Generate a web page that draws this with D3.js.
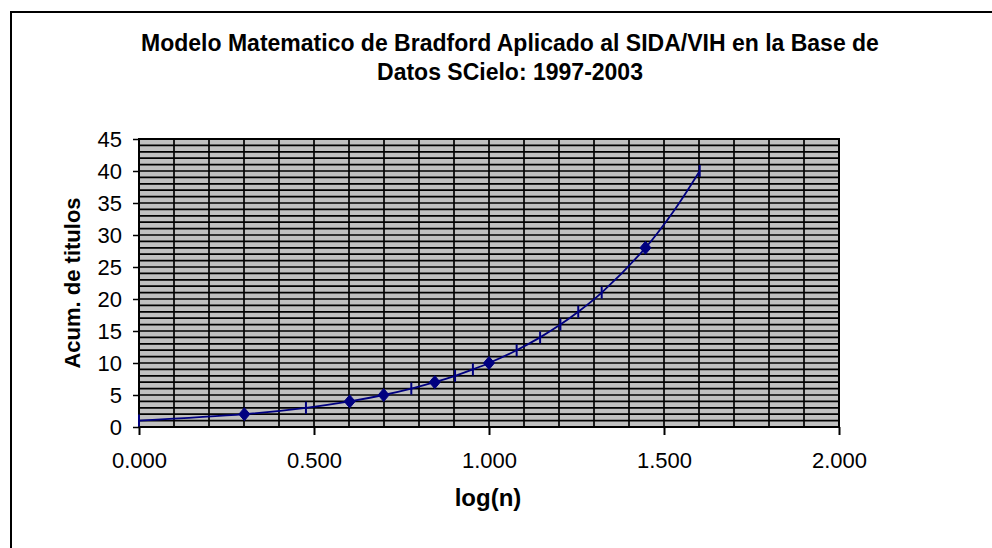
<!DOCTYPE html>
<html>
<head>
<meta charset="utf-8">
<script src="https://cdn.jsdelivr.net/npm/d3@7/dist/d3.min.js"></script>
<style>
  html, body { margin: 0; padding: 0; background: #fff; }
  svg { display: block; }
  text { font-family: "Liberation Sans", Arial, sans-serif; }
</style>
</head>
<body>
<svg id="chart" width="992" height="548"></svg>
<script>
// ---- data ----
const titleLines = ["Modelo Matematico de Bradford Aplicado al SIDA/VIH en la Base de", "Datos SCielo: 1997-2003"];
const xLabel = "log(n)";
const yLabel = "Acum. de titulos";
// log(n) values on the x axis
const logN = [0.000, 0.301, 0.477, 0.602, 0.699, 0.778, 0.845, 0.903, 0.954, 1.000, 1.079, 1.146, 1.204, 1.255, 1.322, 1.447, 1.531, 1.602];
// cumulative titles
const acumTitulos = [1, 2, 3, 4, 5, 6, 7, 8, 9, 10, 12, 14, 16, 18, 21, 28, 34, 40];
// marker shown at each point: "diamond", "bar" (vertical dash) or "none"
const markerType = ["bar", "diamond", "bar", "diamond", "diamond", "bar", "diamond", "bar", "bar", "diamond", "bar", "bar", "bar", "bar", "bar", "diamond", "none", "bar"];
const xTickValues = [0, 0.5, 1.0, 1.5, 2.0];
const yTickValues = [0, 5, 10, 15, 20, 25, 30, 35, 40, 45];

const data = logN.map((v, i) => ({ x: v, y: acumTitulos[i], m: markerType[i] }));

const svg = d3.select("#chart");
const W = 992, H = 548;
const plot = { left: 139, right: 839, top: 139, bottom: 427 };

const x = d3.scaleLinear().domain([0, 2]).range([plot.left, plot.right]);
const y = d3.scaleLinear().domain([0, 45]).range([plot.bottom, plot.top]);

// outer frame
svg.append("rect").attr("x", 11).attr("y", 12).attr("width", W + 20).attr("height", H + 20)
  .attr("fill", "#fff").attr("stroke", "#000").attr("stroke-width", 2);

// title
svg.append("g").selectAll("text").data(titleLines).join("text")
  .attr("x", 510).attr("y", (d, i) => 51 + i * 29)
  .attr("text-anchor", "middle").attr("font-weight", "bold").attr("font-size", 23)
  .attr("fill", "#000").text(d => d);

// plot background
svg.append("rect").attr("x", plot.left).attr("y", plot.top)
  .attr("width", plot.right - plot.left).attr("height", plot.bottom - plot.top)
  .attr("fill", "#c0c0c0");

// gridlines
const grid = svg.append("g").attr("stroke", "#000").attr("stroke-width", 1.7);
grid.selectAll("line.h").data(y.ticks(45)).join("line").attr("class", "h")
  .attr("x1", plot.left).attr("x2", plot.right)
  .attr("y1", d => y(d)).attr("y2", d => y(d));
grid.selectAll("line.v").data(x.ticks(20)).join("line").attr("class", "v")
  .attr("x1", d => x(d)).attr("x2", d => x(d))
  .attr("y1", plot.top).attr("y2", plot.bottom);

// plot border
svg.append("rect").attr("x", plot.left).attr("y", plot.top)
  .attr("width", plot.right - plot.left).attr("height", plot.bottom - plot.top)
  .attr("fill", "none").attr("stroke", "#000").attr("stroke-width", 2);

// axes
const yAxis = svg.append("g").attr("transform", `translate(${plot.left},0)`)
  .call(d3.axisLeft(y).tickValues(yTickValues).tickFormat(d3.format("d")).tickSize(6).tickPadding(11));
yAxis.select(".domain").remove();
yAxis.selectAll("text").attr("font-size", 22).attr("font-family", "Liberation Sans, Arial, sans-serif").attr("fill", "#000");
yAxis.selectAll("line").attr("stroke", "#000").attr("stroke-width", 1.5);

const xAxis = svg.append("g").attr("transform", `translate(0,${plot.bottom})`)
  .call(d3.axisBottom(x).tickValues(xTickValues).tickFormat(d3.format(".3f")).tickSize(8).tickPadding(17));
xAxis.select(".domain").remove();
xAxis.selectAll("text").attr("font-size", 22).attr("font-family", "Liberation Sans, Arial, sans-serif").attr("fill", "#000");
xAxis.selectAll("line").attr("stroke", "#000").attr("stroke-width", 2);

// axis titles
svg.append("text").attr("x", 488).attr("y", 506).attr("text-anchor", "middle")
  .attr("font-weight", "bold").attr("font-size", 24).text(xLabel);
svg.append("text").attr("transform", "translate(80,283) rotate(-90)").attr("text-anchor", "middle")
  .attr("font-weight", "bold").attr("font-size", 22).text(yLabel);

// series line
const color = "#000080";
const line = d3.line().x(d => x(d.x)).y(d => y(d.y)).curve(d3.curveCatmullRom.alpha(0.5));
svg.append("path").datum(data).attr("d", line).attr("fill", "none")
  .attr("stroke", color).attr("stroke-width", 1.8);

// markers
svg.append("g").selectAll("path").data(data.filter(d => d.m === "diamond")).join("path")
  .attr("d", d => {
    const cx = x(d.x), cy = y(d.y);
    return `M${cx},${cy - 6.5}L${cx + 5.5},${cy}L${cx},${cy + 6.5}L${cx - 5.5},${cy}Z`;
  })
  .attr("fill", color).attr("stroke", color).attr("stroke-width", 1);
svg.append("g").selectAll("line").data(data.filter(d => d.m === "bar")).join("line")
  .attr("x1", d => x(d.x)).attr("x2", d => x(d.x))
  .attr("y1", d => y(d.y) - 6).attr("y2", d => y(d.y) + 6)
  .attr("stroke", color).attr("stroke-width", 2);
</script>
</body>
</html>
